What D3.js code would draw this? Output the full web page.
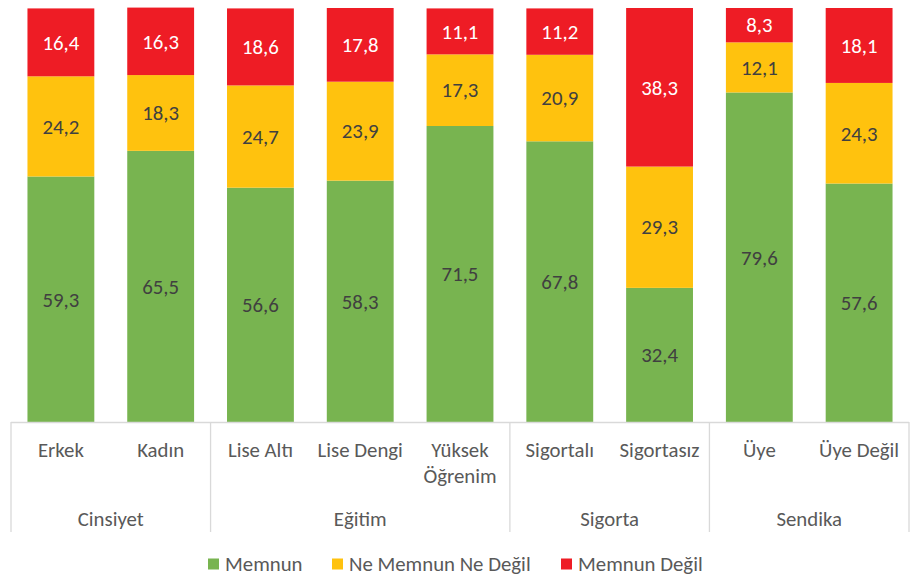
<!DOCTYPE html>
<html><head><meta charset="utf-8">
<script src="https://cdn.jsdelivr.net/npm/d3@7"></script>
<style>body{margin:0;background:#fff}svg{display:block}</style>
</head><body>
<script>
const categories = ["Erkek","Kadın","Lise Altı","Lise Dengi","Yüksek Öğrenim","Sigortalı","Sigortasız","Üye","Üye Değil"];
const groups = [{name:"Cinsiyet",count:2},{name:"Eğitim",count:3},{name:"Sigorta",count:2},{name:"Sendika",count:2}];
const seriesNames = ["Memnun","Ne Memnun Ne Değil","Memnun Değil"];
const memnun = [59.3,65.5,56.6,58.3,71.5,67.8,32.4,79.6,57.6];
const neMemnun = [24.2,18.3,24.7,23.9,17.3,20.9,29.3,12.1,24.3];
const memnunDegil = [16.4,16.3,18.6,17.8,11.1,11.2,38.3,8.3,18.1];
const colors = ["#78B450","#FFC20E","#EE1C25"];
const labelColors = ["#404040","#404040","#ffffff"];

const W=912,H=578;
const svg=d3.select("body").append("svg").attr("width",W).attr("height",H);
const font="Carlito, 'Open Sans', sans-serif";
const fs=20.8;
const x=d3.scaleBand().domain(categories).range([11,909]).paddingInner(0.33).paddingOuter(0.165);
const y=d3.scaleLinear().domain([0,100]).range([422,8]);

const rows=categories.map((c,i)=>({cat:c,s0:memnun[i],s1:neMemnun[i],s2:memnunDegil[i]}));
const stack=d3.stack().keys(["s0","s1","s2"])(rows);

const layers=svg.append("g").selectAll("g").data(stack).join("g").attr("fill",(d,i)=>colors[i]);
layers.selectAll("rect").data(d=>d).join("rect")
  .attr("x",d=>x(d.data.cat)).attr("width",x.bandwidth())
  .attr("y",d=>y(d[1])).attr("height",d=>y(d[0])-y(d[1]));
layers.selectAll("text").data((d,i)=>d.map(v=>({v,i}))).join("text")
  .attr("x",d=>x(d.v.data.cat)+x.bandwidth()/2)
  .attr("y",d=>(y(d.v[0])+y(d.v[1]))/2)
  .attr("dy","0.35em").attr("text-anchor","middle")
  .attr("fill",d=>labelColors[d.i]).attr("font-family",font).attr("font-size",fs)
  .text(d=>d3.format(".1f")(d.v[1]-d.v[0]).replace(".",","));

// axis
const ax=svg.append("g").attr("stroke","#d9d9d9").attr("stroke-width",1.3);
ax.append("line").attr("x1",11).attr("x2",909).attr("y1",422.5).attr("y2",422.5);
const step=x.step();
let bounds=[0];groups.forEach(g=>bounds.push(bounds[bounds.length-1]+g.count));
bounds.forEach(b=>{const xx=11+b*step;ax.append("line").attr("x1",xx).attr("x2",xx).attr("y1",422).attr("y2",532);});

// category labels
svg.append("g").selectAll("text").data(categories).join("text")
  .attr("x",d=>x(d)+x.bandwidth()/2).attr("y",450).attr("dy","0.35em")
  .attr("text-anchor","middle").attr("fill","#595959").attr("font-family",font).attr("font-size",fs)
  .each(function(d){
    const parts=d==="Yüksek Öğrenim"?["Yüksek","Öğrenim"]:[d];
    d3.select(this).selectAll("tspan").data(parts).join("tspan")
      .attr("x",x(d)+x.bandwidth()/2).attr("dy",(p,i)=>i?26:"0.35em").text(p=>p);
  });
// group labels
svg.append("g").selectAll("text").data(groups).join("text")
  .attr("x",(g,i)=>11+(bounds[i]+g.count/2)*step).attr("y",519).attr("dy","0.35em")
  .attr("text-anchor","middle").attr("fill","#595959").attr("font-family",font).attr("font-size",fs)
  .text(g=>g.name);

// legend
const legX=[208,332,561];
const lg=svg.append("g").selectAll("g").data(seriesNames).join("g").attr("transform",(d,i)=>`translate(${legX[i]},564)`);
lg.append("rect").attr("x",0).attr("y",-5.5).attr("width",11).attr("height",11).attr("fill",(d,i)=>colors[i]);
lg.append("text").attr("x",17).attr("dy","0.35em").attr("fill","#595959").attr("font-family",font).attr("font-size",fs).text(d=>d);
</script>
</body></html>
